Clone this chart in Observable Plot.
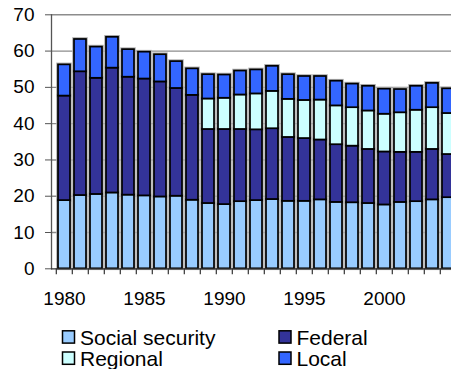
<!DOCTYPE html>
<html><head><meta charset="utf-8">
<script src="https://cdn.jsdelivr.net/npm/d3@7"></script>
<script src="https://cdn.jsdelivr.net/npm/@observablehq/plot@0.6"></script>
<style>
html,body{margin:0;padding:0;background:#fff;overflow:hidden;width:451px;height:369px}
#wrap{width:451px;height:369px;overflow:hidden}
#wrap svg{overflow:hidden}
</style></head><body><div id="wrap"></div>
<script>
const years = [1980,1981,1982,1983,1984,1985,1986,1987,1988,1989,1990,1991,1992,1993,1994,1995,1996,1997,1998,1999,2000,2001,2002,2003,2004];
const socialSecurity = [18.8,20.2,20.5,20.9,20.3,20.1,19.8,20.0,18.9,18.0,17.7,18.5,18.8,19.1,18.6,18.6,19.0,18.3,18.2,18.0,17.6,18.3,18.5,19.0,19.6];
const federal = [28.8,34.1,32.0,34.4,32.5,32.2,31.7,29.7,28.9,20.4,20.7,19.9,19.5,19.5,17.6,17.3,16.5,15.9,15.6,14.9,14.6,13.8,13.6,13.9,11.9];
const regional = [null,null,null,null,null,null,null,null,null,8.4,8.6,9.5,9.9,10.3,10.5,10.5,11.0,10.7,10.6,10.6,10.4,10.9,11.6,11.5,11.3];
const local = [8.6,8.9,8.6,8.5,7.6,7.4,7.5,7.4,7.3,6.7,6.4,6.6,6.6,6.9,6.8,6.6,6.5,6.8,6.5,6.8,6.9,6.4,6.6,6.7,6.8];
const seriesNames = ["Social security","Federal","Regional","Local"];
const seriesColors = ["#99CCFF","#333399","#CCFFFF","#3366FF"];
const yTicks = [0,10,20,30,40,50,60,70];
const xTickLabels = [1980,1985,1990,1995,2000];

const seriesArrays = [socialSecurity, federal, regional, local];
const rows = [];
years.forEach((yr, i) => {
  seriesArrays.forEach((arr, k) => {
    if (arr[i] != null) rows.push({year: yr, series: seriesNames[k], value: arr[i]});
  });
});

const W = 451, H = 369;
const plotLeft = 51, plotTop = 14.3, plotBottom = 268.3;
const step = 16.4;
const font = "'Liberation Sans', Arial, sans-serif";

const chart = Plot.plot({
  width: W, height: H,
  marginLeft: plotLeft, marginTop: plotTop, marginBottom: H - plotBottom, marginRight: 0,
  style: {fontFamily: font, fontSize: "18.5px", color: "#000", background: "#fff"},
  x: {type: "band", domain: years, range: [plotLeft, plotLeft + step * years.length], paddingInner: 0.27, paddingOuter: 0.135, axis: null},
  y: {domain: [0, 70], axis: null},
  color: {domain: seriesNames, range: seriesColors},
  marks: [
    Plot.ruleY(yTicks.filter(d => d > 0), {stroke: "#8c8c8c", strokeWidth: 1.4}),
    Plot.barY(rows, Plot.stackY({x: "year", y: "value", z: "series", order: seriesNames, fill: "none", stroke: "#b0b0b0", strokeWidth: 3.6})),
    Plot.barY(rows, Plot.stackY({x: "year", y: "value", z: "series", order: seriesNames, fill: "series", stroke: "#000", strokeWidth: 1.7})),
    Plot.frame({anchor: "left", stroke: "#555", strokeWidth: 1.3}),
    Plot.ruleY([0], {stroke: "#333", strokeWidth: 1.3}),
    Plot.ruleX(years, {x: d => d, dx: -step / 2, y1: 0, y2: -1.65, stroke: "#333", strokeWidth: 1.2}),
    Plot.axisY({ticks: yTicks, tickSize: 6, tickPadding: 11, stroke: "#555", fill: "#000", fontSize: 19, label: null}),
    Plot.axisX({ticks: xTickLabels, tickFormat: d => String(d), tickSize: 0, tickPadding: 23, fill: "#000", fontSize: 19, label: null})
  ]
});

const svg = d3.select(chart);
const lg = svg.append("g").attr("font-family", font).attr("font-size", 21).attr("fill", "#000").attr("text-anchor", "start");
const legendItems = [
  {name: seriesNames[0], color: seriesColors[0], rx: 62.5, ry: 330.8, tx: 80, ty: 344.5},
  {name: seriesNames[1], color: seriesColors[1], rx: 279, ry: 330.8, tx: 296.5, ty: 344.5},
  {name: seriesNames[2], color: seriesColors[2], rx: 62.5, ry: 352, tx: 80, ty: 365.5},
  {name: seriesNames[3], color: seriesColors[3], rx: 279, ry: 352, tx: 296.5, ty: 365.5}
];
legendItems.forEach(it => {
  lg.append("rect").attr("x", it.rx).attr("y", it.ry).attr("width", 12).attr("height", 12.3)
    .attr("fill", it.color).attr("stroke", "#000").attr("stroke-width", 1.5);
  lg.append("text").attr("x", it.tx).attr("y", it.ty).attr("text-anchor", "start").text(it.name);
});

document.getElementById("wrap").appendChild(chart);
</script>
</body></html>
